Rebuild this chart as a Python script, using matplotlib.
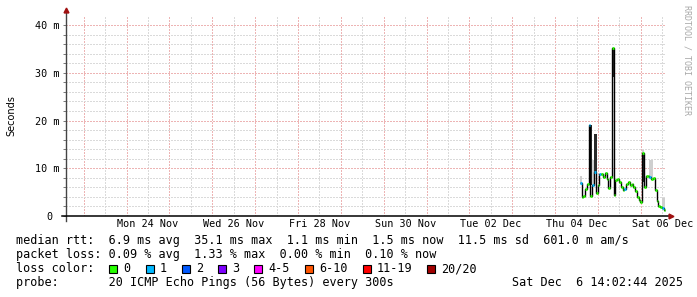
import numpy as np
import pandas as pd
import matplotlib
matplotlib.use("Agg")
import matplotlib.pyplot as plt
import matplotlib.dates as mdates
import matplotlib.patches as mpatches
import matplotlib.transforms as mtransforms
from matplotlib.ticker import MultipleLocator, FuncFormatter

W, H = 697, 297
MONO = "DejaVu Sans Mono"

# time range of the graph (last 14 days)
t_start = pd.Timestamp("2025-11-22 14:02:44")
t_end = pd.Timestamp("2025-12-06 14:02:44")

# hourly samples, first one starts at data_start
data_start = "2025-12-04 13:45"
median_ms = [7.0, 4.0, 4.2, 5.6, 6.8, 19.1, 4.1, 6.5, 9.3, 4.9,
             6.5, 8.8, 8.8, 8.1, 9.1, 7.8, 5.8, 8.2, 35.1, 4.4,
             7.5, 7.7, 7.1, 6.0, 5.4, 5.6, 6.8, 7.1, 6.4, 6.6,
             6.0, 5.2, 3.9, 3.4, 2.9, 13.3, 6.1, 8.4, 8.3, 8.1,
             7.7, 8.0, 5.4, 3.1, 2.1, 1.8, 1.6, 1.3]
loss_idx = [1, 0, 0, 0, 0, 1, 0, 1, 1, 0,
            0, 1, 0, 0, 0, 0, 0, 0, 0, 0,
            0, 0, 0, 0, 0, 1, 0, 0, 0, 0,
            0, 0, 0, 0, 0, 0, 0, 0, 0, 1,
            0, 0, 0, 0, 0, 0, 1, 0]
nan = np.nan
# light smoke (upper ping spread), nan = none
haze_hi = [8.4, nan, nan, nan, nan, nan, nan, 11.7, nan, nan,
           nan, nan, nan, nan, nan, nan, nan, nan, nan, nan,
           nan, nan, nan, nan, nan, nan, nan, nan, nan, nan,
           nan, nan, nan, nan, nan, 13.8, nan, nan, nan, 11.7,
           11.7, nan, nan, nan, nan, nan, 3.7, 3.7]
# dark smoke bars
dark_lo = [nan] * 5 + [6.5, nan, nan, 9.3] + [nan] * 9 + [29.2] + [nan] * 16 + [7.2] + [nan] * 12
dark_hi = [nan] * 5 + [19.1, nan, nan, 17.2] + [nan] * 9 + [35.1] + [nan] * 16 + [13.3] + [nan] * 12

loss_labels = ["0", "1", "2", "3", "4-5", "6-10", "11-19", "20/20"]
loss_colors = ["#26ff00", "#00b8ff", "#0059ff", "#7e00ff",
               "#ff00ff", "#ff5500", "#ff0000", "#a10000"]

day_labels = ["Mon 24 Nov", "Wed 26 Nov", "Fri 28 Nov", "Sun 30 Nov",
              "Tue 02 Dec", "Thu 04 Dec", "Sat 06 Dec"]

stats_rtt = "median rtt:  6.9 ms avg  35.1 ms max  1.1 ms min  1.5 ms now  11.5 ms sd  601.0 m am/s"
stats_loss = "packet loss: 0.09 % avg  1.33 % max  0.00 % min  0.10 % now"
probe_txt = "probe:       20 ICMP Echo Pings (56 Bytes) every 300s"
stamp_txt = "Sat Dec  6 14:02:44 2025"


def px(x, y):
    return x / W, 1 - y / H


fig = plt.figure(figsize=(W / 100, H / 100), dpi=100)
left, right, top, bottom = 66, 666, 16, 216
ax = fig.add_axes([left / W, 1 - bottom / H, (right - left) / W, (bottom - top) / H])

edges = pd.date_range(data_start, periods=len(median_ms) + 1, freq="h")
e = mdates.date2num(edges)
med = np.array(median_ms)
haze = np.array(haze_hi)
dlo = np.array(dark_lo)
dhi = np.array(dark_hi)

# smoke
ax.stairs(np.where(np.isnan(haze), med, haze), e, baseline=med, fill=True,
          color="#cfcfcf", zorder=3)
m = ~np.isnan(dlo)
ax.bar(e[:-1][m], (dhi - dlo)[m], bottom=dlo[m], width=1.6 / 24, align="edge",
       color="#2b2b2b", zorder=4)
# median line
ax.stairs(med, e, baseline=None, color="black", lw=1, zorder=5)
ax.hlines(med, e[:-1], e[1:], colors=[loss_colors[k] for k in loss_idx], lw=2, zorder=6)

ax.set_xlim(t_start, t_end)
ax.set_ylim(0, 41.9)

# grid, 1px on / 1px off
dot = (0, (1.4, 1.4))
ax.xaxis.set_major_locator(mdates.DayLocator())
ax.xaxis.set_minor_locator(mdates.HourLocator(byhour=12))
ax.yaxis.set_major_locator(MultipleLocator(10))
ax.yaxis.set_minor_locator(MultipleLocator(2))
ax.grid(which="minor", color="#dadada", ls=dot, lw=0.72, antialiased=False, zorder=1)
ax.grid(which="major", color="#edb4b4", ls=dot, lw=0.72, antialiased=False, zorder=2)
ax.set_axisbelow(True)

for s in ax.spines.values():
    s.set_visible(False)
ax.tick_params(axis="x", which="both", length=0, labelbottom=False)
ax.tick_params(axis="y", which="both", direction="out", length=2.5, color="#777777",
               width=0.7, pad=2.5, labelsize=7.3)
ax.yaxis.set_major_formatter(FuncFormatter(lambda v, p: "0 " if v == 0 else f"{v:.0f} m"))
for lbl in ax.get_yticklabels():
    lbl.set_family(MONO)

# x labels centred on noon of every second day
trans = mtransforms.blended_transform_factory(ax.transData, ax.transAxes)
label_days = pd.date_range("2025-11-24 12:00", periods=len(day_labels), freq="2D")
for d, lbl in zip(label_days, day_labels):
    ax.text(d, -0.04, lbl, transform=trans, ha="center", va="center",
            family=MONO, fontsize=7.3, clip_on=False)

# axes with arrows
ax.plot([0, 0], [-0.025, 1.02], transform=ax.transAxes, color="#444444", lw=1, clip_on=False, zorder=7)
ax.plot([-0.007, 1.006], [0, 0], transform=ax.transAxes, color="black", lw=1.1, clip_on=False, zorder=7)
ax.plot([0], [1.03], marker="^", markersize=3.5, color="#a01010", transform=ax.transAxes, clip_on=False, zorder=8)
ax.plot([1.009], [0], marker=">", markersize=3.5, color="#a01010", transform=ax.transAxes, clip_on=False, zorder=8)

fig.text(*px(11, 116), "Seconds", rotation=90, ha="center", va="center", fontsize=7)
fig.text(*px(687, 60), "RRDTOOL / TOBI OETIKER", rotation=270, ha="center", va="center",
         fontsize=6, color="#a8a8a8", family=MONO)

# legend rows
fs = 8.5
cw = 7.1
x0 = 16
rows = [240.5, 254.5, 268.5, 282.5]
fig.text(*px(x0, rows[0]), stats_rtt, family=MONO, fontsize=fs, va="center")
fig.text(*px(x0, rows[1]), stats_loss, family=MONO, fontsize=fs, va="center")
fig.text(*px(x0, rows[2]), "loss color:", family=MONO, fontsize=fs, va="center")
cur = x0 + 13 * cw
for lbl, col in zip(loss_labels, loss_colors):
    bx, by = px(cur + 1, rows[2] + 4)
    fig.patches.append(mpatches.Rectangle((bx, by), 8 / W, 8 / H, transform=fig.transFigure,
                                          facecolor=col, edgecolor="black", lw=0.8))
    fig.text(*px(cur + 15, rows[2]), lbl, family=MONO, fontsize=fs, va="center")
    cur = cur + 15 + (len(lbl) + 2) * cw
fig.text(*px(x0, rows[3]), probe_txt, family=MONO, fontsize=fs, va="center")
fig.text(*px(683, rows[3]), stamp_txt, family=MONO, fontsize=fs, va="center", ha="right")

fig.savefig("out.png", dpi=100, facecolor="white")
